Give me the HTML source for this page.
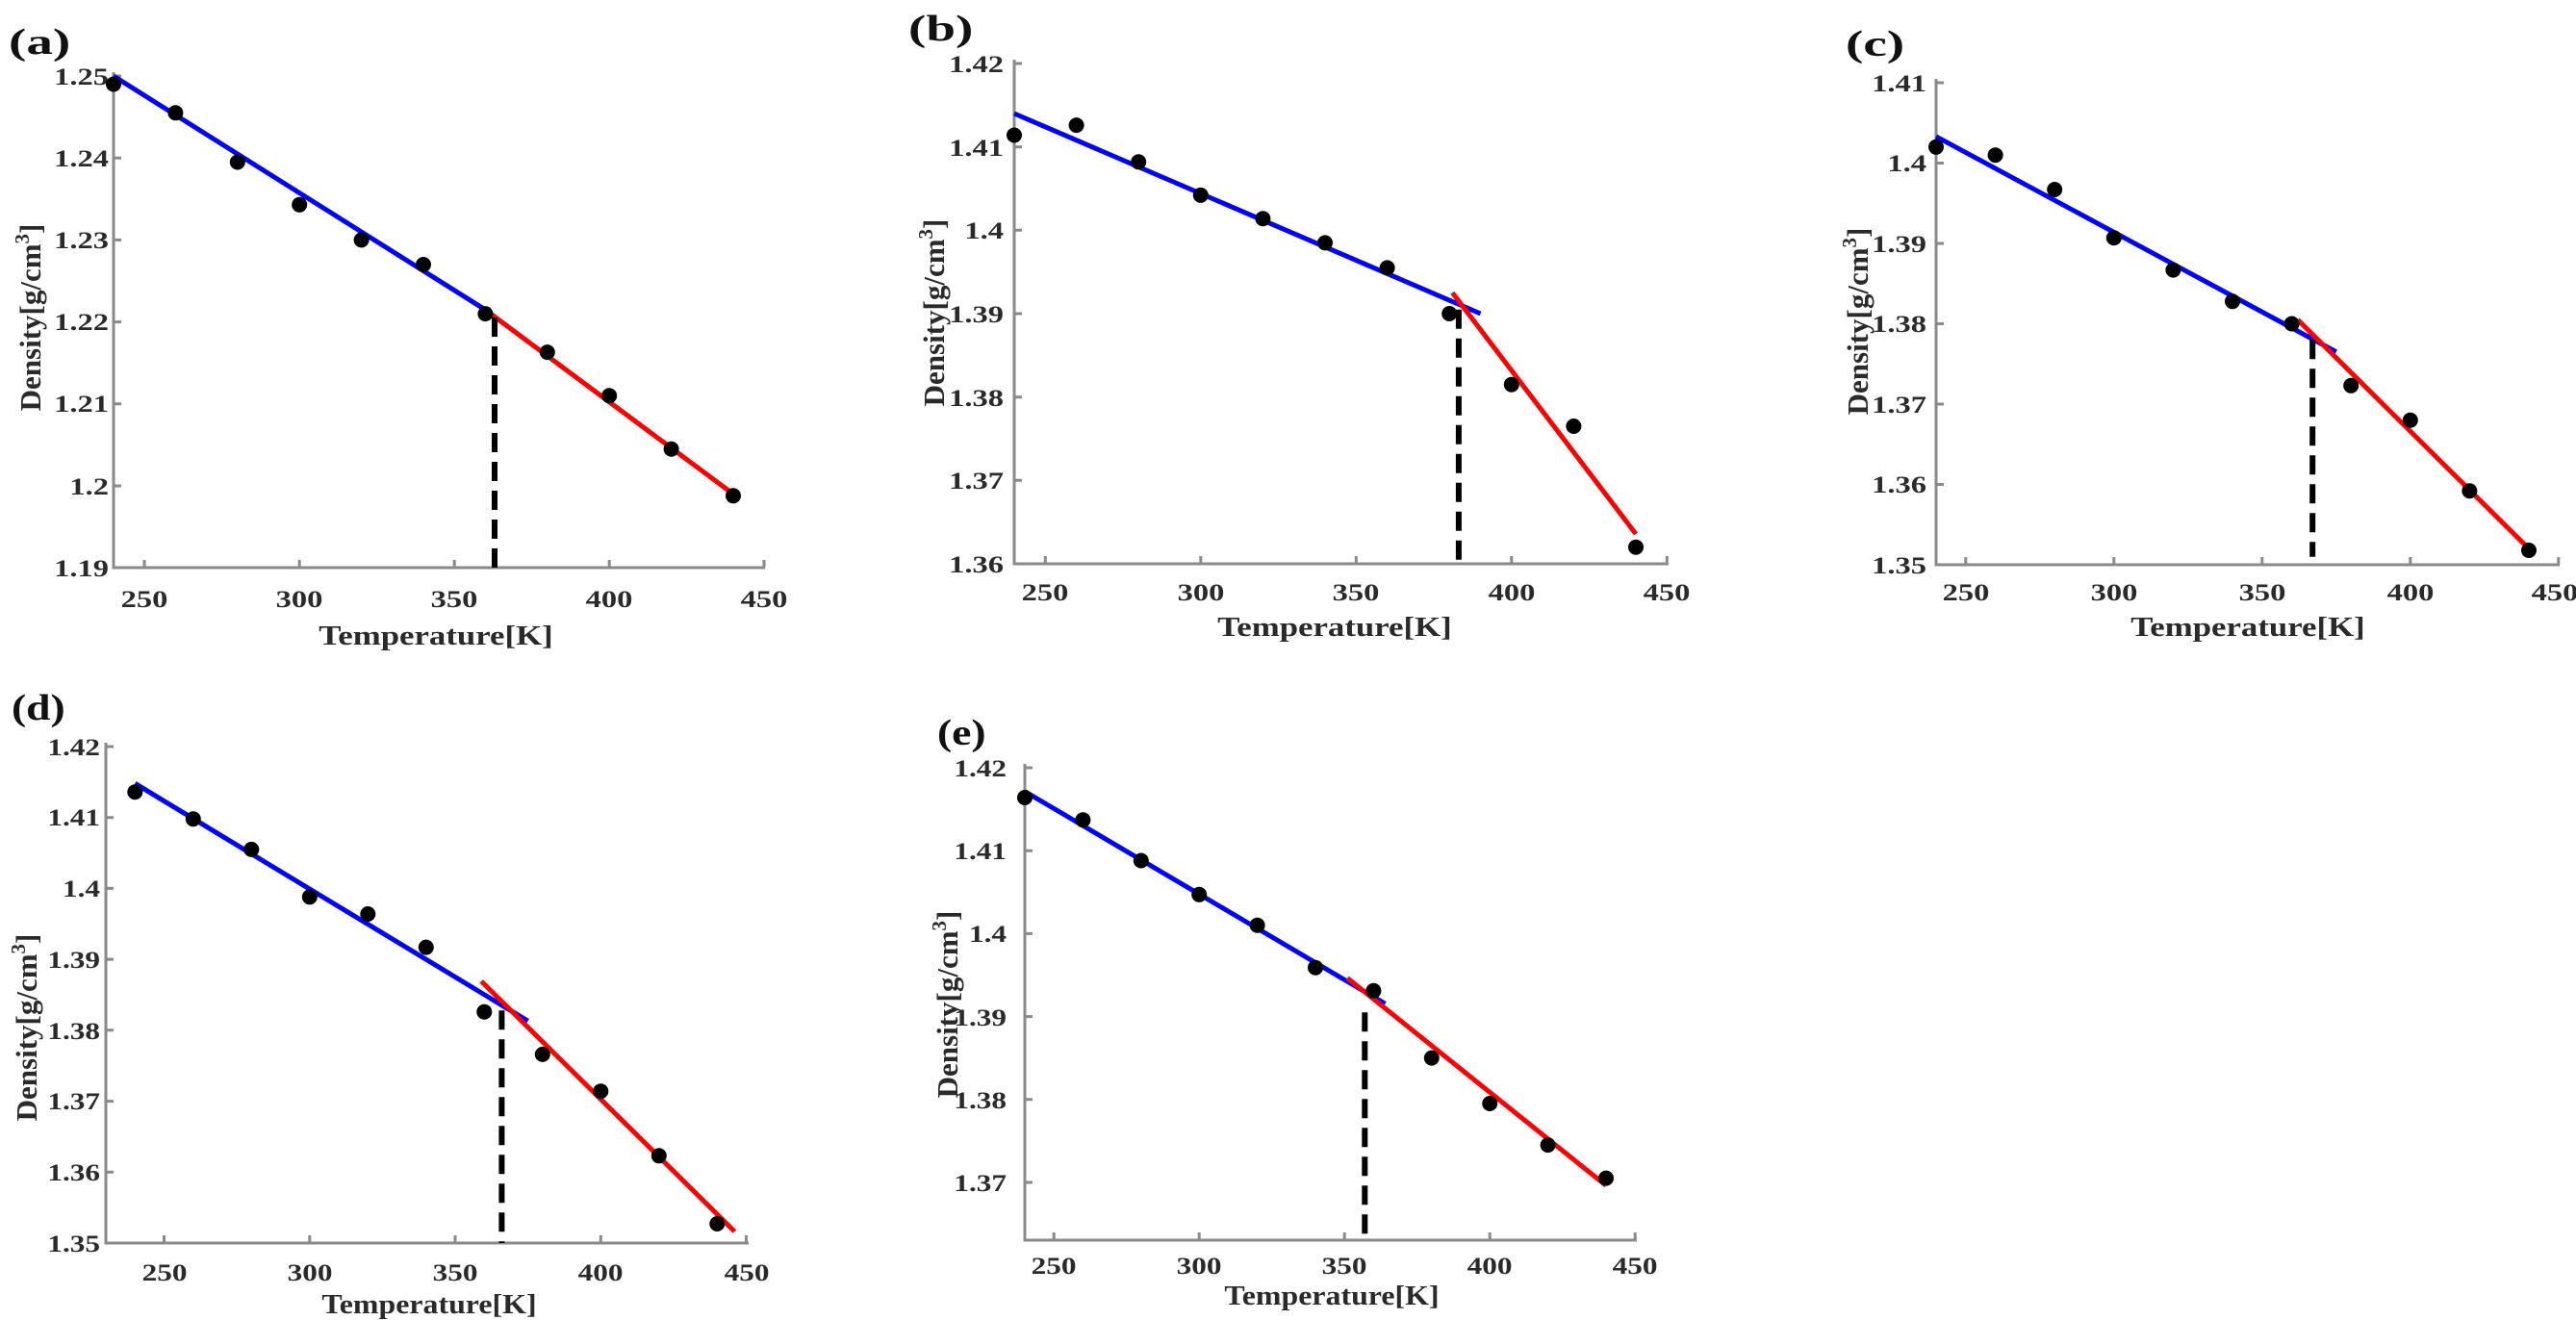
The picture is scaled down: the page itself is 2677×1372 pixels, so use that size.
<!DOCTYPE html>
<html><head><meta charset="utf-8"><style>
html,body{margin:0;padding:0;background:#fff}
svg{display:block}
text{font-family:"Liberation Serif","Times New Roman",serif;font-weight:bold;fill:#2a2a2a}
.tk{font-size:25px}
.yl{font-size:31px}
.xl{font-size:29px}
.lb{font-size:38px;fill:#111}
.ax{stroke:#8a8a8a;stroke-width:3;fill:none}
.bl{stroke:#0000ff;stroke-width:5}
.rd{stroke:#ff0000;stroke-width:5}
.ds{stroke:#000;stroke-width:6;stroke-dasharray:20 10}
circle{fill:#000}
</style></head><body>
<svg width="2677" height="1372" viewBox="0 0 2677 1372" xmlns="http://www.w3.org/2000/svg">

<!-- Panel a -->
<text class="lb" transform="translate(9 56) scale(1.45 1)">(a)</text>
<path class="ax" d="M118 75V590H795M150 590v-8M311.2 590v-8M472.2 590v-8M633.2 590v-8M794 590v-8M118 79h8M118 164.2h8M118 249.4h8M118 334.6h8M118 419.8h8M118 505h8"/>
<g class="tk" text-anchor="end">
<text transform="translate(113 88) scale(1.3 1)">1.25</text>
<text transform="translate(113 173) scale(1.3 1)">1.24</text>
<text transform="translate(113 258) scale(1.3 1)">1.23</text>
<text transform="translate(113 343) scale(1.3 1)">1.22</text>
<text transform="translate(113 428) scale(1.3 1)">1.21</text>
<text transform="translate(113 514) scale(1.3 1)">1.2</text>
<text transform="translate(113 599) scale(1.3 1)">1.19</text>
</g>
<g class="tk" text-anchor="middle">
<text transform="translate(150 631) scale(1.3 1)">250</text>
<text transform="translate(311 631) scale(1.3 1)">300</text>
<text transform="translate(472 631) scale(1.3 1)">350</text>
<text transform="translate(633 631) scale(1.3 1)">400</text>
<text transform="translate(794 631) scale(1.3 1)">450</text>
</g>
<text class="xl" text-anchor="middle" transform="translate(453 670) scale(1.2 1)">Temperature[K]</text>
<text class="yl" text-anchor="middle" transform="translate(42 330) rotate(-90)">Density[g/cm<tspan dy="-12" font-size="21">3</tspan><tspan dy="12">]</tspan></text>
<line class="bl" x1="118" y1="79" x2="504" y2="321.8"/>
<line class="rd" x1="504" y1="321.8" x2="762" y2="513.5"/>
<line class="ds" x1="514" y1="330" x2="514" y2="590"/>
<g><circle cx="118" cy="87.5" r="8"/><circle cx="182.4" cy="117.3" r="8"/><circle cx="246.8" cy="168.5" r="8"/><circle cx="311.2" cy="212.8" r="8"/><circle cx="375.6" cy="249.4" r="8"/><circle cx="440" cy="275" r="8"/><circle cx="504.4" cy="326.1" r="8"/><circle cx="568.8" cy="366.1" r="8"/><circle cx="633.2" cy="411.3" r="8"/><circle cx="697.6" cy="466.7" r="8"/><circle cx="762" cy="515.3" r="8"/></g>

<!-- Panel b -->
<text class="lb" transform="translate(944 42) scale(1.45 1)">(b)</text>
<path class="ax" d="M1054 62V586H1734M1086.3 586v-8M1247.8 586v-8M1409.3 586v-8M1570.8 586v-8M1732.3 586v-8M1054 66h8M1054 152.7h8M1054 239.3h8M1054 326h8M1054 412.7h8M1054 499.3h8"/>
<g class="tk" text-anchor="end">
<text transform="translate(1043 75) scale(1.3 1)">1.42</text>
<text transform="translate(1043 162) scale(1.3 1)">1.41</text>
<text transform="translate(1043 248) scale(1.3 1)">1.4</text>
<text transform="translate(1043 335) scale(1.3 1)">1.39</text>
<text transform="translate(1043 422) scale(1.3 1)">1.38</text>
<text transform="translate(1043 508) scale(1.3 1)">1.37</text>
<text transform="translate(1043 595) scale(1.3 1)">1.36</text>
</g>
<g class="tk" text-anchor="middle">
<text transform="translate(1086 624) scale(1.3 1)">250</text>
<text transform="translate(1248 624) scale(1.3 1)">300</text>
<text transform="translate(1409 624) scale(1.3 1)">350</text>
<text transform="translate(1571 624) scale(1.3 1)">400</text>
<text transform="translate(1732 624) scale(1.3 1)">450</text>
</g>
<text class="xl" text-anchor="middle" transform="translate(1387 661) scale(1.2 1)">Temperature[K]</text>
<text class="yl" text-anchor="middle" transform="translate(981 325) rotate(-90)">Density[g/cm<tspan dy="-12" font-size="21">3</tspan><tspan dy="12">]</tspan></text>
<line class="bl" x1="1054" y1="118" x2="1538.5" y2="326"/>
<line class="rd" x1="1509.4" y1="304.3" x2="1700" y2="555"/>
<line class="ds" x1="1515.9" y1="321.7" x2="1515.9" y2="586"/>
<g><circle cx="1054" cy="140.5" r="8"/><circle cx="1118.6" cy="130.1" r="8"/><circle cx="1183.2" cy="168.3" r="8"/><circle cx="1247.8" cy="202.9" r="8"/><circle cx="1312.4" cy="227.2" r="8"/><circle cx="1377" cy="252.4" r="8"/><circle cx="1441.6" cy="278.4" r="8"/><circle cx="1506.2" cy="326" r="8"/><circle cx="1570.8" cy="399.7" r="8"/><circle cx="1635.4" cy="443" r="8"/><circle cx="1700" cy="568.7" r="8"/></g>

<!-- Panel c -->
<text class="lb" transform="translate(1918 58) scale(1.45 1)">(c)</text>
<path class="ax" d="M2012 82V587H2660M2042.8 587v-8M2196.8 587v-8M2350.8 587v-8M2504.8 587v-8M2658.8 587v-8M2012 86h8M2012 169.5h8M2012 253h8M2012 336.5h8M2012 420h8M2012 503.5h8"/>
<g class="tk" text-anchor="end">
<text transform="translate(2002 95) scale(1.3 1)">1.41</text>
<text transform="translate(2002 178) scale(1.3 1)">1.4</text>
<text transform="translate(2002 262) scale(1.3 1)">1.39</text>
<text transform="translate(2002 345) scale(1.3 1)">1.38</text>
<text transform="translate(2002 429) scale(1.3 1)">1.37</text>
<text transform="translate(2002 512) scale(1.3 1)">1.36</text>
<text transform="translate(2002 596) scale(1.3 1)">1.35</text>
</g>
<g class="tk" text-anchor="middle">
<text transform="translate(2043 624) scale(1.3 1)">250</text>
<text transform="translate(2197 624) scale(1.3 1)">300</text>
<text transform="translate(2351 624) scale(1.3 1)">350</text>
<text transform="translate(2505 624) scale(1.3 1)">400</text>
<text transform="translate(2655 624) scale(1.3 1)">450</text>
</g>
<text class="xl" text-anchor="middle" transform="translate(2336 661) scale(1.2 1)">Temperature[K]</text>
<text class="yl" text-anchor="middle" transform="translate(1941 334) rotate(-90)">Density[g/cm<tspan dy="-12" font-size="21">3</tspan><tspan dy="12">]</tspan></text>
<line class="bl" x1="2012" y1="141.9" x2="2427.8" y2="365.7"/>
<line class="rd" x1="2387.8" y1="332.3" x2="2628" y2="570.3"/>
<line class="ds" x1="2403.2" y1="353.2" x2="2403.2" y2="578.7"/>
<g><circle cx="2012" cy="152.8" r="8"/><circle cx="2073.6" cy="161.2" r="8"/><circle cx="2135.2" cy="197" r="8"/><circle cx="2196.8" cy="247.2" r="8"/><circle cx="2258.4" cy="280.6" r="8"/><circle cx="2320" cy="313.2" r="8"/><circle cx="2381.6" cy="336.5" r="8"/><circle cx="2443.2" cy="400.8" r="8"/><circle cx="2504.8" cy="436.7" r="8"/><circle cx="2566.4" cy="510.2" r="8"/><circle cx="2628" cy="572" r="8"/></g>

<!-- Panel d -->
<text class="lb" transform="translate(12 748) scale(1.2 1)">(d)</text>
<path class="ax" d="M110 772V1292H778M170.5 1292v-8M321.8 1292v-8M473 1292v-8M624.3 1292v-8M775.5 1292v-8M110 776h8M110 849.7h8M110 923.4h8M110 997.1h8M110 1070.8h8M110 1144.6h8M110 1218.3h8"/>
<g class="tk" text-anchor="end">
<text transform="translate(104 785) scale(1.25 1)">1.42</text>
<text transform="translate(104 858) scale(1.25 1)">1.41</text>
<text transform="translate(104 932) scale(1.25 1)">1.4</text>
<text transform="translate(104 1006) scale(1.25 1)">1.39</text>
<text transform="translate(104 1080) scale(1.25 1)">1.38</text>
<text transform="translate(104 1153) scale(1.25 1)">1.37</text>
<text transform="translate(104 1227) scale(1.25 1)">1.36</text>
<text transform="translate(104 1301) scale(1.25 1)">1.35</text>
</g>
<g class="tk" text-anchor="middle">
<text transform="translate(171 1331) scale(1.25 1)">250</text>
<text transform="translate(322 1331) scale(1.25 1)">300</text>
<text transform="translate(473 1331) scale(1.25 1)">350</text>
<text transform="translate(624 1331) scale(1.25 1)">400</text>
<text transform="translate(776 1331) scale(1.25 1)">450</text>
</g>
<text class="xl" text-anchor="middle" transform="translate(446 1365) scale(1.1 1)">Temperature[K]</text>
<text class="yl" text-anchor="middle" transform="translate(38 1068) rotate(-90)">Density[g/cm<tspan dy="-12" font-size="21">3</tspan><tspan dy="12">]</tspan></text>
<line class="bl" x1="140.3" y1="814.3" x2="548.6" y2="1061.2"/>
<line class="rd" x1="500.2" y1="1019.9" x2="763.4" y2="1280"/>
<line class="ds" x1="521.4" y1="1050.2" x2="521.4" y2="1292"/>
<g><circle cx="140.3" cy="823.2" r="8"/><circle cx="200.8" cy="851.2" r="8"/><circle cx="261.3" cy="882.9" r="8"/><circle cx="321.8" cy="932.3" r="8"/><circle cx="382.3" cy="950" r="8"/><circle cx="442.8" cy="984.6" r="8"/><circle cx="503.3" cy="1051.7" r="8"/><circle cx="563.8" cy="1095.9" r="8"/><circle cx="624.3" cy="1134.2" r="8"/><circle cx="684.8" cy="1201.3" r="8"/><circle cx="745.3" cy="1272" r="8"/></g>

<!-- Panel e -->
<text class="lb" transform="translate(974 774) scale(1.2 1)">(e)</text>
<path class="ax" d="M1065 794V1289H1701M1095.2 1289v-8M1246.2 1289v-8M1397.2 1289v-8M1548.2 1289v-8M1699.2 1289v-8M1065 798h8M1065 884.2h8M1065 970.4h8M1065 1056.6h8M1065 1142.8h8M1065 1229h8"/>
<g class="tk" text-anchor="end">
<text transform="translate(1046 807) scale(1.25 1)">1.42</text>
<text transform="translate(1046 893) scale(1.25 1)">1.41</text>
<text transform="translate(1046 979) scale(1.25 1)">1.4</text>
<text transform="translate(1046 1066) scale(1.25 1)">1.39</text>
<text transform="translate(1046 1152) scale(1.25 1)">1.38</text>
<text transform="translate(1046 1238) scale(1.25 1)">1.37</text>
</g>
<g class="tk" text-anchor="middle">
<text transform="translate(1095 1324) scale(1.25 1)">250</text>
<text transform="translate(1246 1324) scale(1.25 1)">300</text>
<text transform="translate(1397 1324) scale(1.25 1)">350</text>
<text transform="translate(1548 1324) scale(1.25 1)">400</text>
<text transform="translate(1699 1324) scale(1.25 1)">450</text>
</g>
<text class="xl" text-anchor="middle" transform="translate(1384 1356) scale(1.1 1)">Temperature[K]</text>
<text class="yl" text-anchor="middle" transform="translate(995 1044) rotate(-90)">Density[g/cm<tspan dy="-12" font-size="21">3</tspan><tspan dy="12">]</tspan></text>
<line class="bl" x1="1065" y1="822.6" x2="1439.5" y2="1043.3"/>
<line class="rd" x1="1400.2" y1="1016.6" x2="1669" y2="1232.2"/>
<line class="ds" x1="1418.3" y1="1052.3" x2="1418.3" y2="1289"/>
<g><circle cx="1065" cy="829" r="8"/><circle cx="1125.4" cy="852.2" r="8"/><circle cx="1185.8" cy="894.5" r="8"/><circle cx="1246.2" cy="929.8" r="8"/><circle cx="1306.6" cy="961.7" r="8"/><circle cx="1367" cy="1005.7" r="8"/><circle cx="1427.4" cy="1029.8" r="8"/><circle cx="1487.8" cy="1099.6" r="8"/><circle cx="1548.2" cy="1147" r="8"/><circle cx="1608.6" cy="1190.1" r="8"/><circle cx="1669" cy="1224.6" r="8"/></g>
</svg>
</body></html>
